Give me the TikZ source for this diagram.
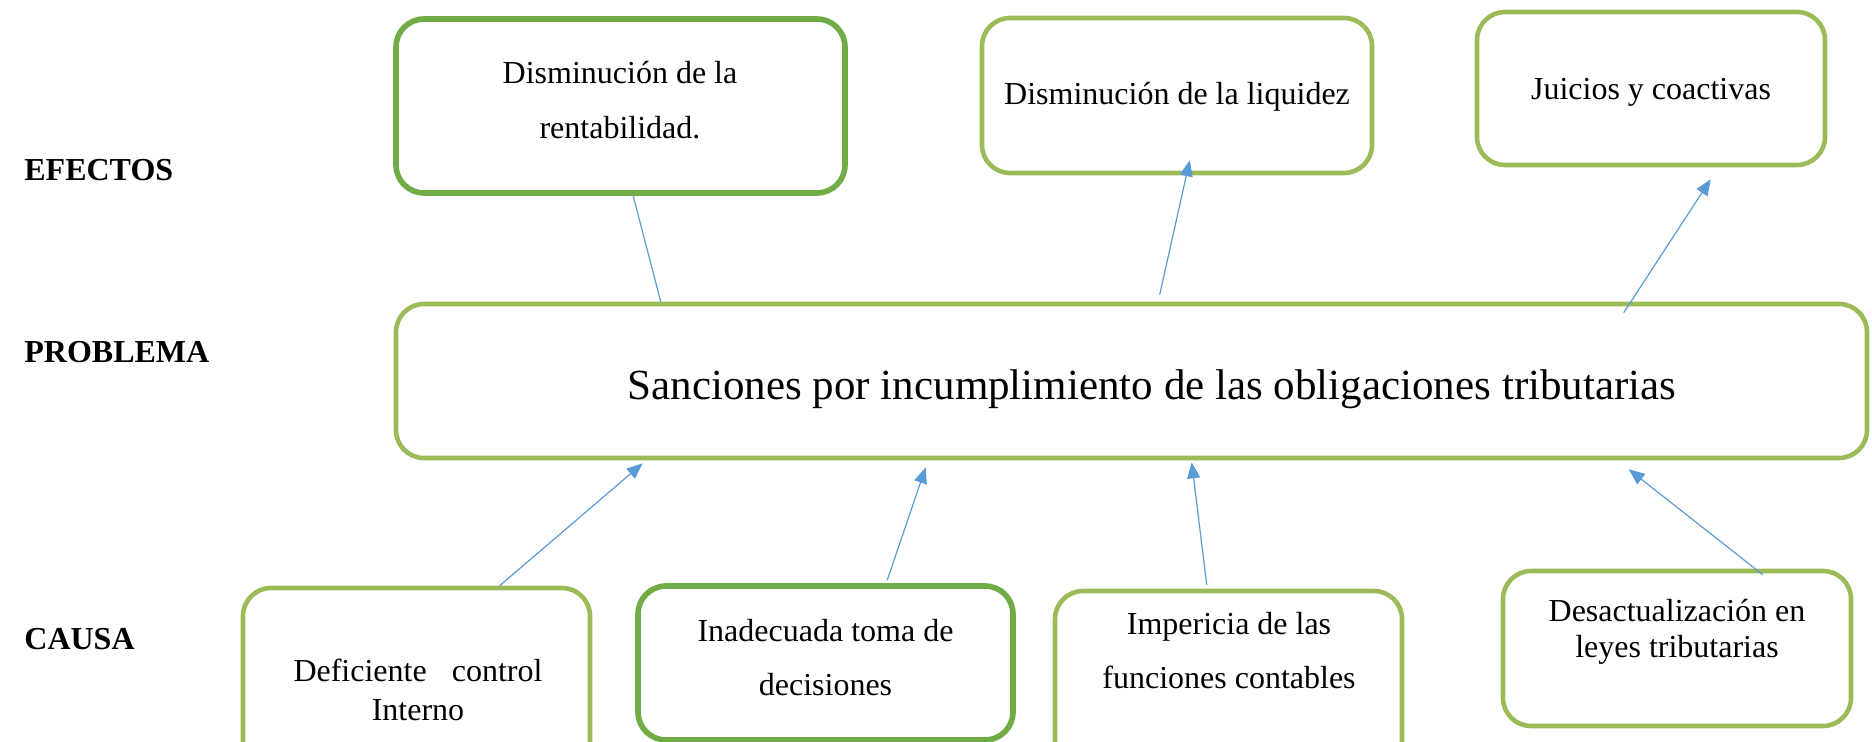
\documentclass[tikz,border=0pt]{standalone}
\usepackage{fontspec}
\setmainfont{Liberation Serif}
\usetikzlibrary{arrows.meta}
\definecolor{darkgreen}{HTML}{70AD47}
\definecolor{lightgreen}{HTML}{9BBB59}
\definecolor{linkblue}{HTML}{5B9BD5}
\begin{document}
\begin{tikzpicture}[x=0.5pt,y=-0.5pt,
        box node/.style={rectangle,rounded corners=14pt,draw=lightgreen,line width=2.3pt,fill=white},
        strong box/.style={box node,draw=darkgreen,line width=2.8pt},
        box text/.style={align=center,inner sep=0pt,font=\fontsize{16}{27.5}\selectfont},
        row label/.style={anchor=west,inner sep=0pt,font=\fontsize{16}{19}\selectfont\bfseries},
        link/.style={draw=linkblue,line width=0.6pt},
        arrow/.style={link,-{Triangle[length=8pt,width=6.5pt]}}]
        \useasboundingbox (0,0) rectangle (1872,742);
        \clip (0,0) rectangle (1872,742);

        % row labels
        \node[row label] at (24,170) (efectos) {EFECTOS};
        \node[row label] at (24,352) (problema) {PROBLEMA};
        \node[row label] at (24,639) (causa) {CAUSA};

        % effects
        \node[strong box, minimum width=224.5pt, minimum height=87pt] at (620.5,106) (R) {};
        \node[box node, minimum width=195pt, minimum height=77.5pt] at (1177,95.5) (L) {};
        \node[box node, minimum width=174pt, minimum height=76.5pt] at (1651,88.5) (J) {};

        % problem
        \node[box node, minimum width=735.5pt, minimum height=77pt] at (1131.5,381) (prob) {};

        % causes
        \node[box node, minimum width=173.5pt, minimum height=91pt] at (416.5,679) (D) {};
        \node[strong box, minimum width=187.5pt, minimum height=77pt] at (825.5,663) (I) {};
        \node[box node, minimum width=173.5pt, minimum height=89.5pt] at (1228.5,680.5) (P) {};
        \node[box node, minimum width=174pt, minimum height=77.5pt] at (1677,648.5) (A) {};

        % texts
        \node[box text] at (620,100) (tR) {Disminución de la\\rentabilidad.};
        \node[box text] at (1177,97) (tL) {Disminución de la liquidez};
        \node[box text] at (1651,92) (tJ) {Juicios y coactivas};
        \node[box text, font=\fontsize{21.5}{26}\selectfont] at (1152,389) (tprob)
            {Sanciones por incumplimiento de las obligaciones tributarias};
        \node[box text, font=\fontsize{16}{19.5}\selectfont] at (418,690) (tD)
            {\makebox[124.5pt][s]{Deficiente control}\\Interno};
        \node[box text, font=\fontsize{16}{27}\selectfont] at (825.5,658) (tI) {Inadecuada toma de\\decisiones};
        \node[box text, font=\fontsize{16}{27}\selectfont] at (1229,651) (tP) {Impericia de las\\funciones contables};
        \node[box text, font=\fontsize{16}{18}\selectfont] at (1677,632) (tA) {Desactualización en\\leyes tributarias};

        % connectors
        \draw[link] ([xshift=133.5pt]prob.north west) -- ([xshift=120pt]R.south west);
        \draw[arrow] ([xshift=383pt,yshift=3.5pt]prob.north west) -- ([xshift=105pt,yshift=7.5pt]L.south west);
        \draw[arrow] ([xshift=615pt,yshift=-5.5pt]prob.north west) -- ([xshift=118pt,yshift=-6pt]J.south west);
        \draw[arrow] ([xshift=129.5pt]D.north west) -- ([xshift=124.5pt,yshift=-1.5pt]prob.south west);
        \draw[arrow] ([xshift=126pt,yshift=1.5pt]I.north west) -- ([xshift=266pt,yshift=-3.5pt]prob.south west);
        \draw[arrow] ([xshift=77pt,yshift=2pt]P.north west) -- ([xshift=399pt,yshift=-1pt]prob.south west);
        \draw[arrow] ([xshift=131pt,yshift=-3pt]A.north west) -- ([xshift=617.5pt,yshift=-4.5pt]prob.south west);
\end{tikzpicture}
\end{document}
